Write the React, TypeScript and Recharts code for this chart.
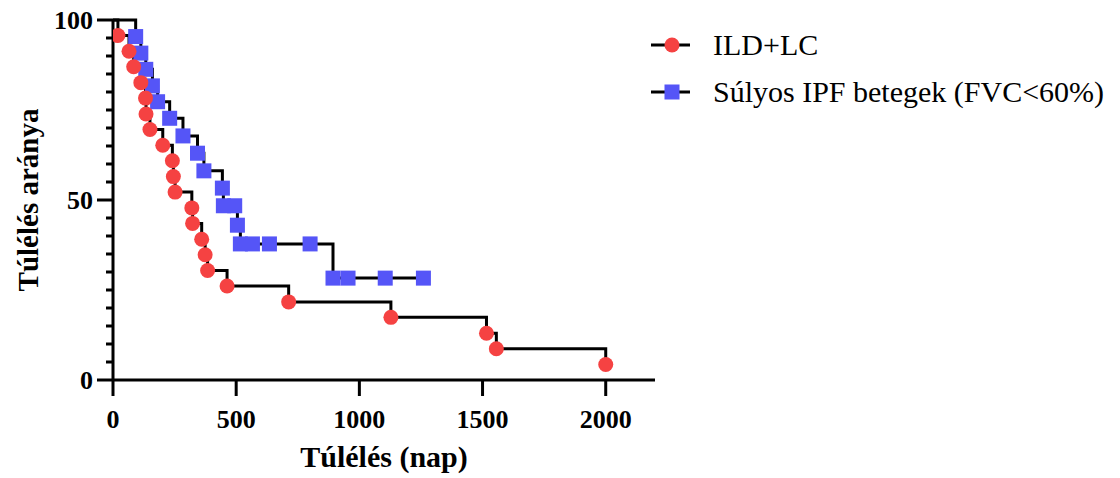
import React from 'react';
import { ComposedChart, Line, XAxis, YAxis, Legend } from 'recharts';

// ILD+LC Kaplan-Meier points (day, survival %)
const ildDays = [0, 20, 65, 84, 113, 132, 134, 150, 202, 241, 245, 252, 320, 323, 360, 374, 384, 463, 713, 1128, 1516, 1556, 2000];
const ildSurvival = [100, 95.7, 91.3, 87.0, 82.6, 78.3, 73.9, 69.6, 65.2, 60.9, 56.5, 52.2, 47.8, 43.5, 39.1, 34.8, 30.4, 26.1, 21.7, 17.4, 13.0, 8.7, 4.3];

// Súlyos IPF betegek (FVC<60%)
const ipfDays = [0, 92, 113, 133, 160, 181, 230, 284, 343, 369, 444, 448, 494, 505, 517, 566, 635, 800, 893, 954, 1105, 1260];
const ipfSurvival = [100, 95.4, 90.8, 86.3, 81.7, 77.3, 72.7, 67.8, 63.0, 58.1, 53.3, 48.4, 48.4, 43.0, 37.8, 37.8, 37.8, 37.8, 28.3, 28.3, 28.3, 28.3];

const xTicks = [0, 500, 1000, 1500, 2000];
const yTicks = [0, 5, 10, 15, 20, 25, 30, 35, 40, 45, 50, 55, 60, 65, 70, 75, 80, 85, 90, 95, 100];
const yMajor = [0, 50, 100];

const seriesNames = ['ILD+LC', 'Súlyos IPF betegek (FVC<60%)'];
const xTitle = 'Túlélés (nap)';
const yTitle = 'Túlélés aránya';

const RED = '#F54242';
const BLUE = '#5555F7';
const FONT = '"Liberation Serif", "Times New Roman", serif';

const ildData = ildDays.map((d, i) => ({ day: d, value: ildSurvival[i] }));
const ipfData = ipfDays.map((d, i) => ({ day: d, value: ipfSurvival[i] }));

const YTick = (props: any) => {
  const { x, y, payload } = props;
  const v = payload.value;
  const major = yMajor.includes(v);
  return (
    <g>
      <line x1={x} x2={x - (major ? 16 : 7)} y1={y} y2={y} stroke="#000" strokeWidth={3} />
      {major && (
        <text x={x - 20} y={y + 9} textAnchor="end" fontFamily={FONT} fontWeight="bold" fontSize={26} fill="#000">
          {v}
        </text>
      )}
    </g>
  );
};

const XTick = (props: any) => {
  const { x, y, payload } = props;
  return (
    <g>
      <line x1={x} x2={x} y1={y} y2={y + 16} stroke="#000" strokeWidth={3} />
      <text x={x} y={y + 48} textAnchor="middle" fontFamily={FONT} fontWeight="bold" fontSize={26} fill="#000">
        {payload.value}
      </text>
    </g>
  );
};

const XLabel = (props: any) => {
  const vb = props.viewBox || {};
  const cx = vb.x + vb.width / 2;
  return (
    <text x={cx} y={vb.y + 87} textAnchor="middle" fontFamily={FONT} fontWeight="bold" fontSize={30} fill="#000">
      {xTitle}
    </text>
  );
};

const YLabel = (props: any) => {
  const vb = props.viewBox || {};
  const cy = vb.y + vb.height / 2;
  const bx = vb.x + 38;
  return (
    <text x={bx} y={cy} transform={`rotate(-90 ${bx} ${cy})`} textAnchor="middle" fontFamily={FONT} fontWeight="bold" fontSize={29} fill="#000">
      {yTitle}
    </text>
  );
};

const makeDot = (shape: 'circle' | 'square', color: string) => (p: any) => {
  const { cx, cy, index } = p;
  if (index === 0 || cx == null || cy == null) return <g key={`d-${shape}-${index}`} />;
  if (shape === 'circle') {
    return <circle key={`d-${shape}-${index}`} cx={cx} cy={cy} r={7.5} fill={color} stroke="none" />;
  }
  return <rect key={`d-${shape}-${index}`} x={cx - 7.5} y={cy - 7.5} width={15} height={15} fill={color} stroke="none" />;
};

const LegendContent = () => (
  <svg width={475} height={120} style={{ display: 'block' }}>
    <g>
      <line x1={6} x2={45} y1={45} y2={45} stroke="#000" strokeWidth={3} />
      <circle cx={27} cy={45} r={7.5} fill={RED} />
      <text x={68} y={55} fontFamily={FONT} fontSize={30} fill="#000">{seriesNames[0]}</text>
    </g>
    <g>
      <line x1={6} x2={45} y1={92} y2={92} stroke="#000" strokeWidth={3} />
      <rect x={19.5} y={84.5} width={15} height={15} fill={BLUE} />
      <text x={68} y={102} fontFamily={FONT} fontSize={30} fill="#000">{seriesNames[1]}</text>
    </g>
  </svg>
);

export default function App() {
  return (
    <div style={{ position: 'absolute', left: 0, top: 0, width: 1120, height: 478, background: '#fff' }}>
      <ComposedChart width={1120} height={478} margin={{ top: 20, right: 465, bottom: 0, left: 0 }}>
        <XAxis
          dataKey="day"
          type="number"
          domain={[0, 2200]}
          ticks={xTicks}
          allowDataOverflow
          height={98}
          tickSize={0}
          tickMargin={0}
          tick={<XTick />}
          axisLine={{ stroke: '#000', strokeWidth: 3 }}
          tickLine={false}
          label={<XLabel />}
        />
        <YAxis
          type="number"
          domain={[0, 100]}
          ticks={yTicks}
          interval={0}
          width={113}
          tickSize={0}
          tickMargin={0}
          tick={<YTick />}
          axisLine={{ stroke: '#000', strokeWidth: 3 }}
          tickLine={false}
          label={<YLabel />}
        />
        <Legend
          layout="vertical"
          align="center"
          verticalAlign="middle"
          content={<LegendContent />}
          wrapperStyle={{ left: 645, top: 0, width: 475, height: 120 }}
        />
        <Line
          data={ipfData}
          dataKey="value"
          type="stepAfter"
          stroke="#000"
          strokeWidth={3}
          dot={makeDot('square', BLUE)}
          activeDot={false}
          isAnimationActive={false}
          name={seriesNames[1]}
        />
        <Line
          data={ildData}
          dataKey="value"
          type="stepAfter"
          stroke="#000"
          strokeWidth={3}
          dot={makeDot('circle', RED)}
          activeDot={false}
          isAnimationActive={false}
          name={seriesNames[0]}
        />
      </ComposedChart>
    </div>
  );
}
